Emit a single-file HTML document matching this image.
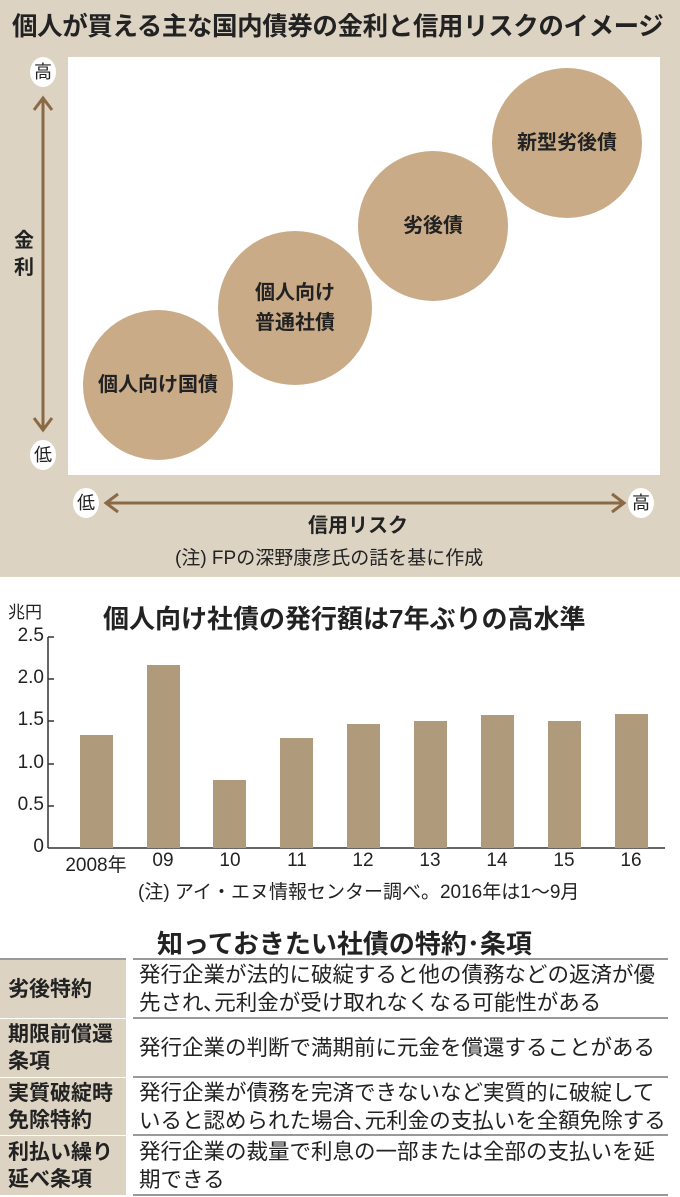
<!DOCTYPE html><html><head><meta charset="utf-8"><style>
body{margin:0;width:680px;height:1197px;background:#fff;font-family:"Liberation Sans","Noto Sans CJK JP",sans-serif;position:relative;overflow:hidden;color:#222}
.a{position:absolute;white-space:nowrap}
.c{position:absolute;border-radius:50%;background:#c9ab88;display:flex;align-items:center;justify-content:center;text-align:center;font-size:20px;font-weight:bold;line-height:30px;color:#222}
.lab{position:absolute;background:#fff;border-radius:50%;width:26px;height:30px;font-size:18px;text-align:center;line-height:30px}
.yl{position:absolute;left:0;width:44px;text-align:right;font-size:19px}
.bar{position:absolute;background:#b09a7c;width:33px;bottom:349px}
.xl{position:absolute;top:850px;font-size:19px;width:80px;text-align:center}
.lc{position:absolute;left:0;width:126px;background:#ddd3c3;font-size:21px;font-weight:bold;line-height:27px;display:flex;align-items:center;padding-left:8px;box-sizing:border-box;white-space:nowrap}
.rc{position:absolute;left:139px;font-size:21.5px;line-height:28px;display:flex;align-items:center;white-space:nowrap}
.ln{position:absolute;height:2px;background:#999}
</style></head><body>
<div class="a" style="left:0;top:0;width:680px;height:577px;background:#ddd3c3"></div>
<div class="a" style="left:12px;top:6px;font-size:25.5px;font-weight:bold;letter-spacing:-0.4px">個人が買える主な国内債券の金利と信用リスクのイメージ</div>
<div class="a" style="left:68px;top:57px;width:592px;height:418px;background:#fff"></div>
<div class="c" style="left:83px;top:310px;width:150px;height:150px">個人向け国債</div>
<div class="c" style="left:218px;top:231px;width:154px;height:154px">個人向け<br>普通社債</div>
<div class="c" style="left:358px;top:151px;width:150px;height:150px">劣後債</div>
<div class="c" style="left:492px;top:68px;width:150px;height:150px">新型劣後債</div>
<div class="lab" style="left:30px;top:57px">高</div>
<div class="lab" style="left:30px;top:440px">低</div>
<svg class="a" style="left:0;top:0" width="680" height="577">
<g stroke="#8a6a45" stroke-width="3" fill="none">
<line x1="43" y1="100" x2="43" y2="428"/><polyline points="34,110 43,98 52,110"/><polyline points="34,418 43,430 52,418"/>
<line x1="108" y1="503" x2="622" y2="503"/><polyline points="118,494 106,503 118,512"/><polyline points="612,494 624,503 612,512"/>
</g></svg>
<div class="a" style="left:14px;top:228px;font-size:20px;font-weight:bold;line-height:27px;width:20px">金<br>利</div>
<div class="lab" style="left:73px;top:488px">低</div>
<div class="lab" style="left:628px;top:488px">高</div>
<div class="a" style="left:308px;top:509px;font-size:20px;font-weight:bold">信用リスク</div>
<div class="a" style="left:175px;top:543px;font-size:19px">(注) FPの深野康彦氏の話を基に作成</div>

<div class="a" style="left:8px;top:598px;font-size:17px">兆円</div>
<div class="a" style="left:103px;top:599px;font-size:26px;font-weight:bold">個人向け社債の発行額は7年ぶりの高水準</div>
<div class="yl" style="top:625px">2.5</div><div class="yl" style="top:667px">2.0</div><div class="yl" style="top:709px">1.5</div><div class="yl" style="top:752px">1.0</div><div class="yl" style="top:794px">0.5</div><div class="yl" style="top:836px">0</div>
<svg class="a" style="left:0;top:0" width="680" height="900"><g stroke="#333" stroke-width="1.5"><line x1="48" y1="637" x2="48" y2="848"/><line x1="48" y1="848" x2="665" y2="848"/><line x1="48" y1="637" x2="54" y2="637"/><line x1="48" y1="679" x2="54" y2="679"/><line x1="48" y1="721" x2="54" y2="721"/><line x1="48" y1="764" x2="54" y2="764"/><line x1="48" y1="806" x2="54" y2="806"/></g></svg>
<div class="bar" style="left:80px;height:113px"></div>
<div class="bar" style="left:147px;height:183px"></div>
<div class="bar" style="left:213px;height:68px"></div>
<div class="bar" style="left:280px;height:110px"></div>
<div class="bar" style="left:347px;height:124px"></div>
<div class="bar" style="left:414px;height:127px"></div>
<div class="bar" style="left:481px;height:133px"></div>
<div class="bar" style="left:548px;height:127px"></div>
<div class="bar" style="left:615px;height:134px"></div>
<div class="xl" style="left:56px">2008年</div><div class="xl" style="left:123px">09</div><div class="xl" style="left:190px">10</div><div class="xl" style="left:257px">11</div><div class="xl" style="left:323px">12</div><div class="xl" style="left:390px">13</div><div class="xl" style="left:457px">14</div><div class="xl" style="left:524px">15</div><div class="xl" style="left:591px">16</div>
<div class="a" style="left:138px;top:877px;font-size:19px">(注) アイ・エヌ情報センター調べ。2016年は1～9月</div>

<div class="a" style="left:157px;top:924px;font-size:26px;font-weight:bold">知っておきたい社債の特約･条項</div>
<div class="lc" style="top:960px;height:58px">劣後特約</div>
<div class="lc" style="top:1019px;height:58px">期限前償還<br>条項</div>
<div class="lc" style="top:1078px;height:57px">実質破綻時<br>免除特約</div>
<div class="lc" style="top:1136px;height:59px">利払い繰り<br>延べ条項</div>
<div class="rc" style="top:960px;height:58px">発行企業が法的に破綻すると他の債務などの返済が優<br>先され､元利金が受け取れなくなる可能性がある</div>
<div class="rc" style="top:1019px;height:58px">発行企業の判断で満期前に元金を償還することがある</div>
<div class="rc" style="top:1078px;height:57px">発行企業が債務を完済できないなど実質的に破綻して<br>いると認められた場合､元利金の支払いを全額免除する</div>
<div class="rc" style="top:1136px;height:59px">発行企業の裁量で利息の一部または全部の支払いを延<br>期できる</div>
<div class="ln" style="left:0;width:126px;top:958px"></div><div class="ln" style="left:133px;width:535px;top:958px"></div>
<div class="ln" style="left:133px;width:535px;top:1017px"></div>
<div class="ln" style="left:133px;width:535px;top:1076px"></div>
<div class="ln" style="left:133px;width:535px;top:1134px"></div>
<div class="ln" style="left:133px;width:535px;top:1194px"></div>
</body></html>
